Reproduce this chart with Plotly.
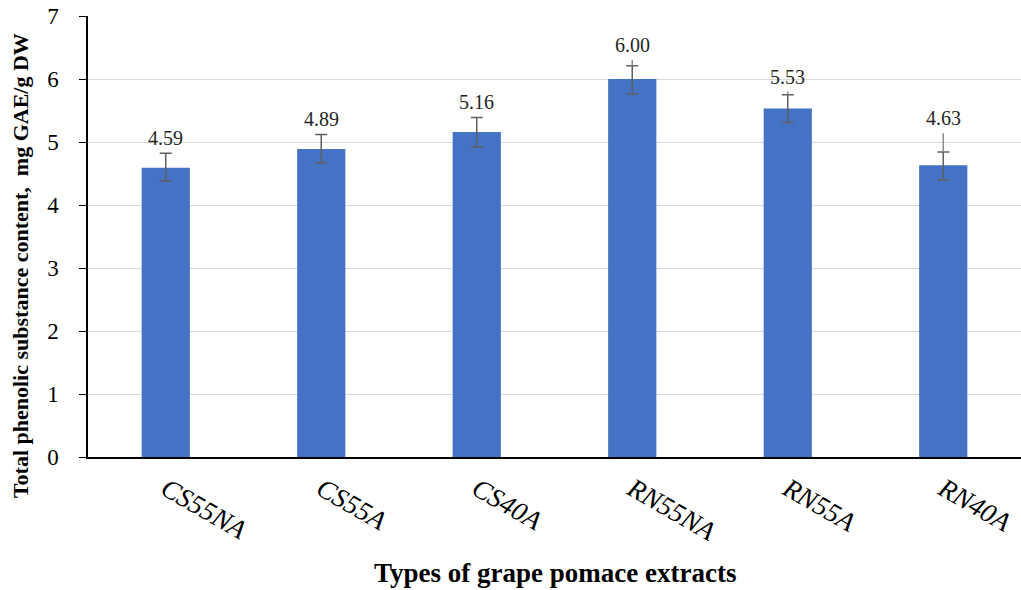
import plotly.graph_objects as go

categories = ["CS55NA", "CS55A", "CS40A", "RN55NA", "RN55A", "RN40A"]
values = [4.59, 4.89, 5.16, 6.00, 5.53, 4.63]
err_plus = [0.23, 0.23, 0.23, 0.21, 0.22, 0.21]
err_minus = [0.21, 0.22, 0.24, 0.24, 0.22, 0.23]
# upper end of the thin whisker extension drawn above some caps
err_ext_top = [None, None, None, 6.30, 5.80, 5.14]
value_labels = ["4.59", "4.89", "5.16", "6.00", "5.53", "4.63"]

SERIF = "Liberation Serif, Times New Roman, serif"
BAR = "#4472C4"
ERR = "#5f5f5f"

fig = go.Figure()
fig.add_trace(go.Bar(
    x=categories, y=values,
    marker=dict(color=BAR, line=dict(width=0)),
    error_y=dict(type="data", symmetric=False, array=err_plus, arrayminus=err_minus,
                 color=ERR, thickness=1.5, width=6),
    showlegend=False, hoverinfo="skip",
))

# whisker extensions
ex, ey = [], []
for c, v, p, t in zip(categories, values, err_plus, err_ext_top):
    if t is not None:
        ex += [c, c, None]
        ey += [v + p, t, None]
fig.add_trace(go.Scatter(x=ex, y=ey, mode="lines", line=dict(color="#8c8c8c", width=1.5),
                         showlegend=False, hoverinfo="skip"))

for c, v, p, t, lab in zip(categories, values, err_plus, err_ext_top, value_labels):
    top = max(v + p, t if t is not None else 0)
    fig.add_annotation(x=c, y=top, text=lab, showarrow=False, yanchor="bottom", yshift=2,
                       font=dict(family=SERIF, size=20, color="#262626"))

fig.add_annotation(xref="paper", yref="paper", x=-0.073, y=0.435, xanchor="center", yanchor="middle",
                   text="<b>Total phenolic substance content,  mg GAE/g DW</b>", textangle=-90,
                   showarrow=False, font=dict(family=SERIF, size=22, color="black"))
fig.add_annotation(xref="paper", yref="paper", x=0.5, y=-0.262, xanchor="center", yanchor="middle",
                   text="<b>Types of grape pomace extracts</b>",
                   showarrow=False, font=dict(family=SERIF, size=27, color="black"))

fig.update_layout(
    width=1021, height=590,
    margin=dict(l=88, r=0, t=16, b=133),
    paper_bgcolor="white", plot_bgcolor="white",
    bargap=0.69,
    font=dict(family=SERIF, color="black"),
)
fig.update_xaxes(
    showline=True, linecolor="black", linewidth=1.5, ticks="",
    tickangle=30, ticklabelstandoff=4,
    tickfont=dict(family=SERIF, size=27, style="italic", color="black"),
    showgrid=False, automargin=False,
)
fig.update_yaxes(
    range=[0, 7], dtick=1, tick0=0,
    showline=True, linecolor="black", linewidth=1.5,
    ticks="outside", ticklen=7, tickcolor="black", tickwidth=1.2,
    ticklabelstandoff=16, ticklabeloverflow="allow",
    tickfont=dict(family=SERIF, size=23, color="black"),
    showgrid=True, gridcolor="#d9d9d9", gridwidth=1, zeroline=False, automargin=False,
)

fig.write_html("out.html", config={"displayModeBar": False},
               post_script="document.body.style.margin='0';")
